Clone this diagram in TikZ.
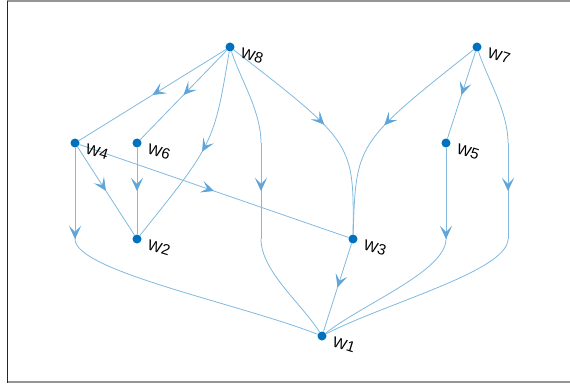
\documentclass[tikz,border=0pt]{standalone}
\usepackage{fontspec}
\setmainfont{Liberation Sans}
\usetikzlibrary{calc,arrows.meta,decorations.markings,backgrounds}

\definecolor{edgeblue}{RGB}{128,185,222}
\definecolor{tipblue}{RGB}{95,165,218}
\definecolor{nodeblue}{RGB}{0,114,189}
\definecolor{framegray}{RGB}{150,150,150}

\begin{document}
\begin{tikzpicture}[x=1pt, y=-1pt,
        vtx/.style={circle, fill=nodeblue, inner sep=0pt, minimum size=9pt},
        lbl/.style={font=\fontsize{15}{17}\selectfont, rotate=-17, inner sep=0pt},
        edge/.style={draw=edgeblue, line width=0.8pt},
        wtip/.tip={Stealth[length=13pt, width=12pt, inset=6pt, tipblue]},
        midarr/.style={postaction={decorate},
            decoration={markings, mark=at position 0.5 with {\arrow{wtip}}}},
        endarr/.style={postaction={decorate},
            decoration={markings, mark=at position 1 with {\arrow{wtip}}}},
        into/.style={to path={.. controls ($(\tikztostart)!1/3!(\tikztotarget)$)
            and ($(\tikztotarget)+(0,-32)$) .. (\tikztotarget)}},
        outof/.style={to path={.. controls ($(\tikztostart)+(0,32)$)
            and ($(\tikztostart)!2/3!(\tikztotarget)$) .. (\tikztotarget)}}]
    \useasboundingbox (0,0) rectangle (570,385);
    % axes frame
    \draw[framegray, line width=1.5pt] (7,1) -- (570,1);
    \draw[framegray, line width=2pt] (7,382) -- (570,382);
    \draw[black!85, line width=1.5pt] (7.5,1) -- (7.5,382.5);

    % vertices and labels
    \foreach \n/\x/\y in {1/322/336, 2/137/239, 3/353/239, 4/75/143,
                          5/446/143, 6/137/143, 7/477/47, 8/230/47}{
        \node[vtx] (w\n) at (\x,\y) {};
        \node[lbl] (t\n) at (\x+22,\y+9) {W\n};
    }
    % control points of the bent edges
    \coordinate (c82) at (214,143);
    \coordinate (c83) at (354,143);
    \coordinate (c73) at (356,143);
    \coordinate (d81a) at (261,143);
    \coordinate (d81b) at (261,239);
    \coordinate (d71a) at (508,143);
    \coordinate (d71b) at (508,239);
    \coordinate (d41) at (75,239);
    \coordinate (d51) at (446,239);

    \begin{scope}[on background layer]
        \draw[edge, midarr] (w8) -- (w4);
        \draw[edge, midarr] (w8) -- (w6);
        \draw[edge, midarr] (w7) -- (w5);
        \draw[edge, midarr] (w4) -- (w2);
        \draw[edge, midarr] (w4) -- (w3);
        \draw[edge, midarr] (w6) -- (w2);
        \draw[edge, midarr] (w3) -- (w1);
        % one bend
        \draw[edge, midarr] (w8) .. controls (c82) .. (w2);
        \draw[edge, midarr] (w8) .. controls (c83) .. (w3);
        \draw[edge, midarr] (w7) .. controls (c73) .. (w3);
        \draw[edge, endarr] (w4) -- (d41);
        \draw[edge] (d41) to[outof] (w1);
        \draw[edge, endarr] (w5) -- (d51);
        \draw[edge] (d51) to[outof] (w1);
        % two bends
        \draw[edge] (w8) to[into] (d81a);
        \draw[edge, midarr] (d81a) -- (d81b);
        \draw[edge] (d81b) to[outof] (w1);
        \draw[edge] (w7) to[into] (d71a);
        \draw[edge, midarr] (d71a) -- (d71b);
        \draw[edge] (d71b) to[outof] (w1);
    \end{scope}
\end{tikzpicture}
\end{document}
